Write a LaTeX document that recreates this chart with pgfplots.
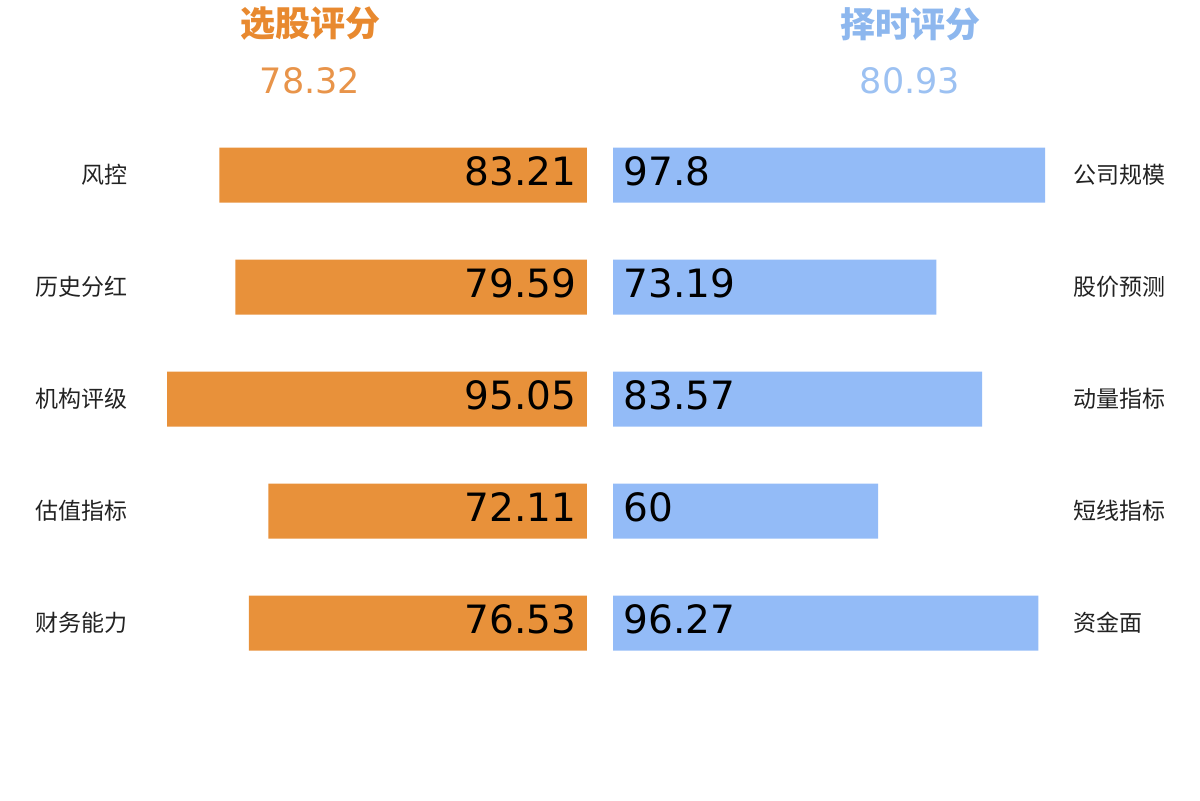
\documentclass[border=0pt]{standalone}
\usepackage{fontspec}
\setmainfont{DejaVu Sans}
\newfontfamily\cjk{Noto Sans CJK SC}
\usepackage{pgfplots}
\pgfplotsset{compat=1.18}

\definecolor{barorange}{HTML}{E8913A}
\definecolor{barblue}{HTML}{93BBF7}
\definecolor{ttlorange}{HTML}{E8892F}
\definecolor{numorange}{HTML}{E8944A}
\definecolor{ttlblue}{HTML}{8DB7EE}
\definecolor{numblue}{HTML}{9CC1F2}
\definecolor{lbl}{HTML}{222222}

% 1 px of the 1200x800 reference = 0.5pt
\pgfplotsset{
  half/.style={
    scale only axis,
    width=223.5pt, height=280pt,
    anchor=south west,
    xmin=0, xmax=101.18,
    ymin=-0.5, ymax=4.5,
    y dir=reverse,
    xtick=\empty,
    ytick={0,1,2,3,4},
    major tick length=0pt,
    axis line style={draw=none},
    yticklabel style={font=\cjk\fontsize{11.5}{13}\selectfont, text=lbl, inner sep=0pt},
    clip=false,
  },
}

\begin{document}
\begin{tikzpicture}
\useasboundingbox (0,0) rectangle (600pt,400pt);

% left: stock selection
\begin{axis}[half,
  at={(70pt,60.5pt)},
  x dir=reverse,
  yticklabels={风控,历史分红,机构评级,估值指标,财务能力},
  yticklabel style={anchor=east, xshift=-6pt},
]
\addplot[xbar, bar width=27.5pt, fill=barorange, draw=none]
  coordinates {(83.21,0) (79.59,1) (95.05,2) (72.11,3) (76.53,4)};
\addplot[draw=none, mark=none,
  nodes near coords, point meta=explicit symbolic,
  nodes near coords style={anchor=east, inner sep=0pt, xshift=-5pt, yshift=2pt, text=black,
    font=\fontsize{19.5}{22}\selectfont}]
  coordinates {(0,0)[83.21] (0,1)[79.59] (0,2)[95.05] (0,3)[72.11] (0,4)[76.53]};
\end{axis}

% right: timing
\begin{axis}[half,
  at={(306.5pt,60.5pt)},
  yticklabel pos=right,
  yticklabels={公司规模,股价预测,动量指标,短线指标,资金面},
  yticklabel style={anchor=west, xshift=6.5pt},
]
\addplot[xbar, bar width=27.5pt, fill=barblue, draw=none]
  coordinates {(97.8,0) (73.19,1) (83.57,2) (60,3) (96.27,4)};
\addplot[draw=none, mark=none,
  nodes near coords, point meta=explicit symbolic,
  nodes near coords style={anchor=west, inner sep=0pt, xshift=5pt, yshift=2pt, text=black,
    font=\fontsize{19.5}{22}\selectfont}]
  coordinates {(0,0)[97.8] (0,1)[73.19] (0,2)[83.57] (0,3)[60] (0,4)[96.27]};
\end{axis}

% headers
\node[text=ttlorange, font=\cjk\bfseries\fontsize{17.5}{20}\selectfont] at (155pt,388pt) {选股评分};
\node[text=numorange, font=\fontsize{17.5}{20}\selectfont] at (155pt,359.7pt) {78.32};
\node[text=ttlblue, font=\cjk\bfseries\fontsize{17.5}{20}\selectfont] at (455pt,388pt) {择时评分};
\node[text=numblue, font=\fontsize{17.5}{20}\selectfont] at (455pt,359.7pt) {80.93};
\end{tikzpicture}
\end{document}
